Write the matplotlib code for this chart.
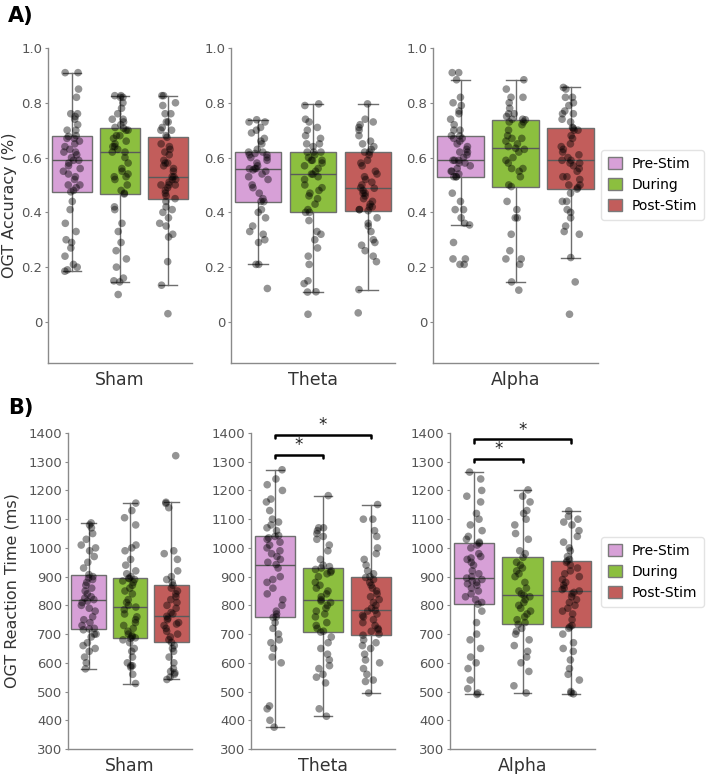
import numpy as np
import matplotlib
matplotlib.use("Agg")
import matplotlib.pyplot as plt
from matplotlib.patches import Patch

# ── data ──────────────────────────────────────────────────────────────────────
groups = ["Sham", "Theta", "Alpha"]
phases = ["Pre-Stim", "During", "Post-Stim"]
colors = ["#D7A0D7", "#8CBF3F", "#C25D5B"]

# OGT accuracy, one value per participant (ascending)
acc_sham_pre = [0.185, 0.19, 0.20, 0.21, 0.24, 0.27, 0.29, 0.30, 0.33, 0.36, 0.41, 0.44,
                0.475, 0.48, 0.49, 0.50, 0.50, 0.52, 0.53, 0.54, 0.55, 0.56, 0.57, 0.58,
                0.59, 0.59, 0.60, 0.61, 0.62, 0.62, 0.63, 0.64, 0.65, 0.66, 0.67, 0.67,
                0.677, 0.68, 0.70, 0.70, 0.72, 0.74, 0.75, 0.76, 0.76, 0.82, 0.85, 0.91, 0.91]
acc_sham_dur = [0.10, 0.146, 0.15, 0.16, 0.20, 0.23, 0.26, 0.29, 0.33, 0.36, 0.41, 0.42,
                0.467, 0.47, 0.48, 0.50, 0.52, 0.53, 0.53, 0.54, 0.55, 0.56, 0.58, 0.60,
                0.62, 0.62, 0.63, 0.64, 0.64, 0.65, 0.66, 0.67, 0.68, 0.68, 0.70, 0.70,
                0.707, 0.71, 0.72, 0.73, 0.74, 0.74, 0.76, 0.78, 0.80, 0.82, 0.82, 0.826, 0.826]
acc_sham_post = [0.03, 0.134, 0.22, 0.31, 0.32, 0.35, 0.36, 0.38, 0.40, 0.41, 0.42, 0.44,
                 0.45, 0.46, 0.47, 0.48, 0.49, 0.50, 0.50, 0.50, 0.51, 0.52, 0.52, 0.53,
                 0.53, 0.55, 0.56, 0.57, 0.58, 0.58, 0.59, 0.61, 0.62, 0.63, 0.64, 0.65,
                 0.674, 0.68, 0.70, 0.70, 0.71, 0.73, 0.73, 0.76, 0.76, 0.79, 0.80, 0.826, 0.826]
acc_theta_pre = [0.122, 0.21, 0.21, 0.29, 0.30, 0.32, 0.33, 0.35, 0.38, 0.40, 0.41,
                 0.439, 0.44, 0.45, 0.47, 0.49, 0.50, 0.52, 0.53, 0.54, 0.55, 0.555,
                 0.559, 0.56, 0.56, 0.57, 0.58, 0.59, 0.60, 0.60, 0.61, 0.61, 0.615,
                 0.62, 0.62, 0.63, 0.65, 0.66, 0.67, 0.69, 0.70, 0.71, 0.73, 0.73, 0.738]
acc_theta_dur = [0.028, 0.109, 0.11, 0.14, 0.15, 0.21, 0.24, 0.27, 0.30, 0.32, 0.33, 0.37,
                 0.40, 0.40, 0.41, 0.43, 0.45, 0.46, 0.47, 0.48, 0.49, 0.50, 0.52, 0.53,
                 0.539, 0.54, 0.55, 0.56, 0.57, 0.58, 0.59, 0.59, 0.59, 0.60, 0.61, 0.62,
                 0.62, 0.62, 0.64, 0.65, 0.65, 0.67, 0.68, 0.70, 0.71, 0.73, 0.74, 0.79, 0.796]
acc_theta_post = [0.033, 0.118, 0.22, 0.24, 0.26, 0.28, 0.29, 0.30, 0.33, 0.35, 0.36, 0.38,
                  0.406, 0.41, 0.41, 0.42, 0.42, 0.43, 0.44, 0.45, 0.46, 0.47, 0.47, 0.48,
                  0.488, 0.49, 0.50, 0.51, 0.52, 0.53, 0.54, 0.55, 0.57, 0.58, 0.59, 0.61,
                  0.62, 0.62, 0.63, 0.64, 0.65, 0.66, 0.68, 0.70, 0.71, 0.72, 0.73, 0.74, 0.796]
acc_alpha_pre = [0.21, 0.21, 0.23, 0.23, 0.29, 0.354, 0.36, 0.38, 0.41, 0.41, 0.44, 0.47,
                 0.53, 0.53, 0.53, 0.54, 0.55, 0.55, 0.56, 0.57, 0.58, 0.58, 0.59, 0.59,
                 0.59, 0.60, 0.61, 0.62, 0.62, 0.63, 0.64, 0.65, 0.66, 0.67, 0.67, 0.68,
                 0.679, 0.70, 0.70, 0.72, 0.74, 0.76, 0.77, 0.79, 0.80, 0.82, 0.884, 0.91, 0.91]
acc_alpha_dur = [0.116, 0.146, 0.21, 0.23, 0.23, 0.26, 0.32, 0.38, 0.38, 0.41, 0.44,
                 0.494, 0.50, 0.53, 0.55, 0.56, 0.56, 0.58, 0.59, 0.60, 0.62, 0.63,
                 0.634, 0.64, 0.65, 0.66, 0.67, 0.67, 0.68, 0.70, 0.72, 0.73, 0.73,
                 0.738, 0.74, 0.74, 0.75, 0.76, 0.76, 0.78, 0.80, 0.82, 0.82, 0.85, 0.884]
acc_alpha_post = [0.028, 0.146, 0.235, 0.32, 0.33, 0.35, 0.38, 0.40, 0.41, 0.44, 0.44, 0.47,
                  0.485, 0.49, 0.50, 0.50, 0.52, 0.53, 0.53, 0.55, 0.56, 0.57, 0.58, 0.58,
                  0.59, 0.59, 0.60, 0.61, 0.62, 0.63, 0.64, 0.65, 0.67, 0.68, 0.70, 0.70,
                  0.707, 0.71, 0.73, 0.74, 0.76, 0.76, 0.77, 0.79, 0.80, 0.82, 0.82, 0.85, 0.856]

# OGT reaction time in ms (ascending)
rt_sham_pre = [579, 600, 620, 640, 650, 660, 670, 690, 700, 700, 715,
               718, 720, 730, 740, 750, 760, 780, 790, 800, 810, 815,
               820, 825, 830, 840, 850, 860, 870, 880, 890, 895, 900,
               907, 930, 950, 970, 990, 1000, 1010, 1030, 1050, 1070, 1080, 1087]
rt_sham_dur = [528, 560, 585, 590, 590, 600, 620, 640, 650, 670, 680, 685,
               687, 690, 695, 700, 710, 720, 730, 740, 750, 760, 770, 785,
               794, 800, 810, 820, 840, 850, 860, 870, 880, 885, 890, 893,
               895, 900, 910, 920, 940, 960, 990, 1000, 1010, 1080, 1105, 1130, 1156]
rt_sham_post = [542, 550, 560, 565, 570, 580, 600, 620, 640, 650, 660,
                671, 680, 690, 700, 710, 720, 730, 735, 740, 750, 755,
                762, 770, 775, 790, 800, 810, 820, 830, 840, 850, 860,
                870, 880, 890, 900, 920, 960, 980, 990, 1140, 1155, 1159, 1321]
rt_theta_pre = [376, 400, 440, 450, 600, 620, 650, 670, 680, 700, 720, 740,
                758, 760, 770, 780, 800, 820, 840, 860, 880, 890, 900, 930,
                942, 950, 960, 970, 980, 990, 1000, 1010, 1020, 1030, 1035, 1040,
                1043, 1060, 1070, 1080, 1090, 1100, 1130, 1160, 1170, 1200, 1220, 1240, 1272]
rt_theta_dur = [414, 440, 530, 550, 560, 580, 590, 610, 630, 650, 670, 690,
                707, 710, 720, 730, 740, 760, 770, 780, 790, 800, 810, 815,
                820, 830, 840, 850, 860, 870, 880, 900, 910, 915, 920, 925,
                930, 935, 940, 960, 990, 1010, 1030, 1040, 1050, 1060, 1070, 1070, 1182]
rt_theta_post = [495, 535, 540, 560, 580, 600, 610, 630, 650, 660, 670, 680,
                 696, 700, 710, 715, 720, 730, 740, 750, 760, 765, 770, 780,
                 783, 790, 800, 810, 820, 830, 840, 850, 860, 870, 880, 890,
                 897, 900, 910, 920, 940, 960, 980, 1000, 1040, 1060, 1100, 1100, 1151]
rt_alpha_pre = [490, 495, 510, 540, 580, 600, 620, 650, 680, 700, 740, 780,
                804, 810, 820, 830, 840, 850, 860, 870, 875, 880, 885, 890,
                895, 900, 910, 920, 940, 950, 960, 965, 970, 980, 1000, 1010,
                1016, 1020, 1030, 1040, 1060, 1080, 1100, 1120, 1160, 1180, 1200, 1240, 1264]
rt_alpha_dur = [495, 520, 570, 600, 620, 640, 660, 680, 700, 710, 720,
                734, 740, 750, 760, 770, 780, 790, 800, 810, 820, 830,
                835, 840, 850, 860, 880, 900, 910, 920, 930, 940, 950,
                967, 980, 990, 1030, 1050, 1080, 1100, 1120, 1130, 1160, 1180, 1202]
rt_alpha_post = [492, 495, 500, 540, 560, 580, 610, 640, 650, 670, 700, 720,
                 725, 730, 750, 770, 780, 790, 800, 810, 820, 830, 840, 845,
                 850, 855, 860, 870, 880, 890, 900, 910, 920, 930, 940, 950,
                 955, 960, 970, 990, 1000, 1020, 1040, 1060, 1080, 1090, 1100, 1110, 1129]

acc = {"Sham": [acc_sham_pre, acc_sham_dur, acc_sham_post],
       "Theta": [acc_theta_pre, acc_theta_dur, acc_theta_post],
       "Alpha": [acc_alpha_pre, acc_alpha_dur, acc_alpha_post]}
rt = {"Sham": [rt_sham_pre, rt_sham_dur, rt_sham_post],
      "Theta": [rt_theta_pre, rt_theta_dur, rt_theta_post],
      "Alpha": [rt_alpha_pre, rt_alpha_dur, rt_alpha_post]}

# significance brackets: (group, phase a, phase b, level in ms)
sig_pairs = [("Theta", 0, 1, 1325), ("Theta", 0, 2, 1394),
             ("Alpha", 0, 1, 1310), ("Alpha", 0, 2, 1378)]

# ── layout (pixel extents of each axes) ───────────────────────────────────────
W, H = 709, 774
boxes_A = {"Sham": (48, 192), "Theta": (231, 395), "Alpha": (433, 598)}
boxes_B = {"Sham": (68, 192), "Theta": (251, 395), "Alpha": (450, 595)}
A_top, A_bot = 48, 363
B_top, B_bot = 433, 749

POS = [-1 / 3, 0, 1 / 3]
GRAY = "#8a8a8a"
TICKC = "#555555"
rng = np.random.default_rng(3)   # horizontal jitter only

fig = plt.figure(figsize=(W / 100, H / 100), dpi=100)


def make_ax(lr, top, bot):
    l, r = lr
    return fig.add_axes([l / W, 1 - bot / H, (r - l) / W, (bot - top) / H])


def panel(ax, series, ylim, yticks, yticklabels, xlabel):
    ax.boxplot(series, positions=POS, widths=0.28, patch_artist=True, showfliers=False,
               capwidths=0.12,
               boxprops=dict(edgecolor="#6e6e6e", linewidth=1.0),
               medianprops=dict(color="#5a5a5a", linewidth=1.0),
               whiskerprops=dict(color="#6e6e6e", linewidth=1.0),
               capprops=dict(color="#6e6e6e", linewidth=1.0))
    for patch, c in zip(ax.patches, colors):
        patch.set_facecolor(c)
    for p, vals in zip(POS, series):
        jit = rng.uniform(-0.06, 0.06, len(vals))
        ax.scatter(p + jit, vals, s=30, color="black", alpha=0.42, edgecolors="none", zorder=3)
    ax.set_xlim(-0.5, 0.5)
    ax.set_ylim(*ylim)
    ax.set_yticks(yticks)
    ax.set_yticklabels(yticklabels)
    ax.set_xticks([0])
    ax.set_xticklabels([xlabel], fontsize=12.5, color="#333333")
    ax.tick_params(axis="x", length=0, pad=6)
    ax.tick_params(axis="y", labelsize=9.5, colors=GRAY, labelcolor=TICKC, length=2, pad=2)
    for s in ("top", "right"):
        ax.spines[s].set_visible(False)
    for s in ("left", "bottom"):
        ax.spines[s].set_color(GRAY)
        ax.spines[s].set_linewidth(1.0)


acc_ticks = [0, 0.2, 0.4, 0.6, 0.8, 1.0]
acc_labels = ["0", "0.2", "0.4", "0.6", "0.8", "1.0"]
rt_ticks = list(range(300, 1401, 100))

axes_B = {}
for g in groups:
    ax = make_ax(boxes_A[g], A_top, A_bot)
    panel(ax, acc[g], (-0.15, 1.0), acc_ticks, acc_labels, g)
    axb = make_ax(boxes_B[g], B_top, B_bot)
    panel(axb, rt[g], (300, 1400), rt_ticks, [str(t) for t in rt_ticks], g)
    axes_B[g] = axb

fig.text(10 / W, 1 - 205 / H, "OGT Accuracy (%)", rotation=90, fontsize=11.5,
         color="#333333", ha="center", va="center")
fig.text(12 / W, 1 - 591 / H, "OGT Reaction Time (ms)", rotation=90, fontsize=11.5,
         color="#333333", ha="center", va="center")

# significance brackets
for g, a, b, lev in sig_pairs:
    ax = axes_B[g]
    x1, x2 = POS[a], POS[b]
    ax.plot([x1, x1, x2, x2], [lev - 12, lev, lev, lev - 12], color="black", lw=1.8,
            solid_joinstyle="round", solid_capstyle="round", clip_on=False, zorder=5)
    ax.text((x1 + x2) / 2, lev + 2, "*", ha="center", va="bottom", fontsize=12,
            color="#222222", clip_on=False)

handles = [Patch(facecolor=c, edgecolor="#7a7a7a", label=p) for c, p in zip(colors, phases)]
for ytop in (150, 537):
    fig.legend(handles=handles, loc="upper left", bbox_to_anchor=(601 / W, 1 - ytop / H),
               fontsize=10, frameon=True, edgecolor="#dddddd", handlelength=1.0,
               handleheight=1.0, handletextpad=0.7, labelspacing=0.5, borderpad=0.5,
               borderaxespad=0)

fig.text(8 / W, 1 - 16 / H, "A)", fontsize=15, fontweight="bold", va="center", ha="left")
fig.text(8 / W, 1 - 408 / H, "B)", fontsize=15, fontweight="bold", va="center", ha="left")

fig.savefig("out.png", dpi=100)
